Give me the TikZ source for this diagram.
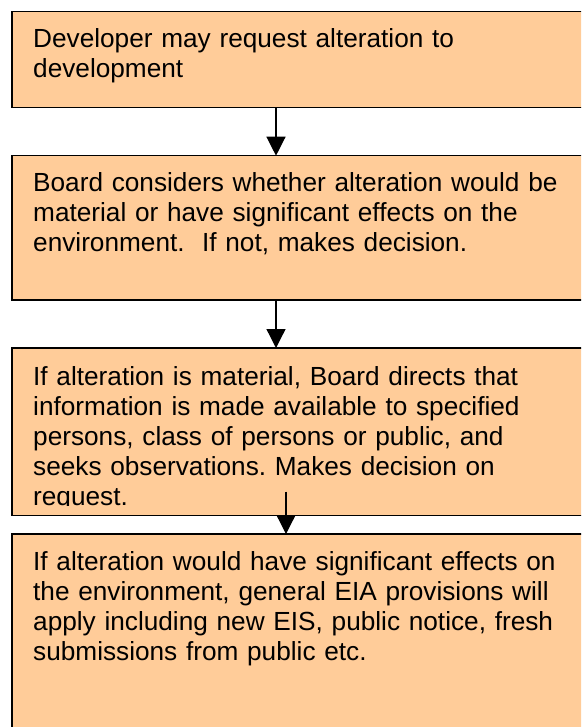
\documentclass[tikz,border=0pt]{standalone}
\usepackage{fontspec}
\setmainfont{Liberation Sans}
\usetikzlibrary{arrows.meta}
\usepackage{xcolor}
\definecolor{peach}{HTML}{FFCC99}
\frenchspacing

\tikzset{
  stage/.style={draw=black, line width=1.5pt, fill=peach, anchor=north west,
    minimum width=600pt, inner sep=0pt, outer sep=0pt},
  stagetext/.style={anchor=base west, text width=580pt, align=left, inner sep=0pt,
    font=\fontsize{26.2}{30}\selectfont},
  flow/.style={-{Triangle[length=19pt,width=19pt]}, line width=1.3pt}
}

\begin{document}
\begin{tikzpicture}
        \useasboundingbox (0,0) rectangle (581pt,-727pt);
        \clip (0,0) rectangle (581pt,-727pt);

        \coordinate (P1) at (12pt,-11.7pt);
        \coordinate (P2) at (12pt,-155.7pt);
        \coordinate (P3) at (12pt,-348pt);
        \coordinate (P4) at (12pt,-534pt);

        \node[stage, minimum height=96pt] (b1) at (P1) {};
        \node[stage, minimum height=144.3pt] (b2) at (P2) {};
        \node[stage, minimum height=167.7pt] (b3) at (P3) {};
        \node[stage, minimum height=220pt] (b4) at (P4) {};

        \node[stagetext] (t1) at ([xshift=21pt,yshift=-35.5pt]b1.north west)
            {Developer may request alteration to\\development};
        \node[stagetext] (t2) at ([xshift=21pt,yshift=-36pt]b2.north west)
            {Board considers whether alteration would be\\material or have significant effects on the\\environment.\ \ If not, makes decision.};
        % last line runs into the box edge and is cut off
        \begin{scope}
            \clip (b3.north west) rectangle ([yshift=10pt]b3.south east);
            \node[stagetext] (t3) at ([xshift=21pt,yshift=-37pt]b3.north west)
                {If alteration is material, Board directs that\\information is made available to specified\\persons, class of persons or public, and\\seeks observations. Makes decision on\\request.};
        \end{scope}
        \node[stagetext] (t4) at ([xshift=21pt,yshift=-36pt]b4.north west)
            {If alteration would have significant effects on\\the environment, general EIA provisions will\\apply including new EIS, public notice, fresh\\submissions from public etc.};

        \draw[flow] ([xshift=264pt]b1.south west) -- ([xshift=264pt]b2.north west);
        \draw[flow] ([xshift=264pt]b2.south west) -- ([xshift=264pt]b3.north west);
        \draw[flow] ([xshift=274pt,yshift=24pt]b3.south west) -- ([xshift=274pt]b4.north west);

    \end{tikzpicture}
\end{document}
